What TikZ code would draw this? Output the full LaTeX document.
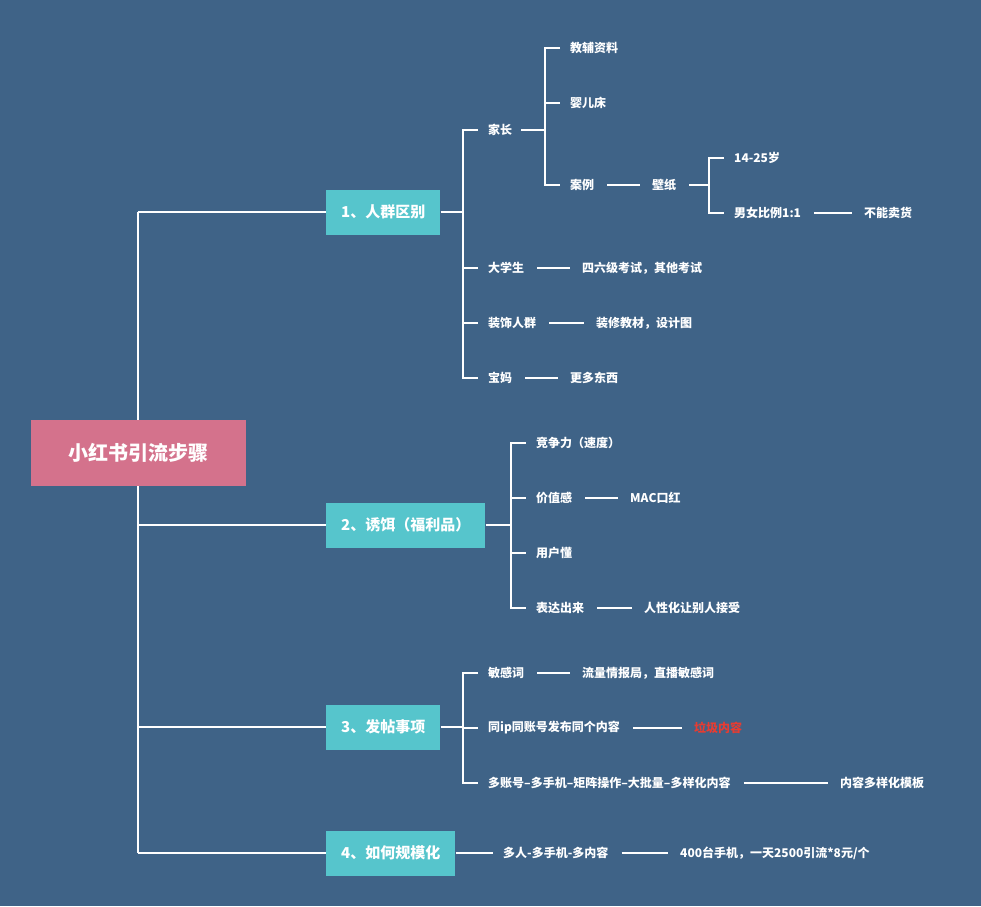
\documentclass[tikz,border=0pt]{standalone}
\usepackage{fontspec}
\setmainfont{Noto Sans CJK SC}
\usetikzlibrary{positioning}
\definecolor{bgblue}{RGB}{63,99,135}
\definecolor{rootpink}{RGB}{212,114,140}
\definecolor{branchteal}{RGB}{86,197,204}
\definecolor{alertred}{RGB}{230,60,50}

\begin{document}
\begin{tikzpicture}[x=1pt, y=-1pt,
        root/.style={rectangle, fill=rootpink, minimum width=215pt, minimum height=66pt, font=\fontsize{20}{24}\selectfont\bfseries, text=white},
        branch/.style={rectangle, fill=branchteal, minimum height=45pt, inner xsep=15pt, font=\fontsize{15}{18}\selectfont\bfseries, text=white},
        leaf/.style={anchor=west, inner sep=1pt, font=\fontsize{12}{14}\selectfont\bfseries, text=white},
        trunk/.style={draw=white, line width=2.2pt},
        link/.style={draw=white, line width=1.5pt}
    ]
        \fill[bgblue] (0,0) rectangle (981,906);
        % trunk
        \draw[trunk] (138,212) -- (138,853);
        \node[root] (root) at (138,453) {小红书引流步骤};
        \node[branch, anchor=west] (b1) at (326,212) {1、人群区别};
        \node[branch, anchor=west] (b2) at (326,525) {2、诱饵（福利品）};
        \node[branch, anchor=west] (b3) at (326,727) {3、发帖事项};
        \node[branch, anchor=west] (b4) at (326,853) {4、如何规模化};
        \foreach \b in {b1,b2,b3,b4}
            \draw[trunk] (138,0 |- \b.west) -- (\b.west);

        % 1
        \node[leaf] (jz) at (487,130) {家长};
        \node[leaf] (dxs) at (487,268) {大学生};
        \node[leaf] (zsrq) at (487,323) {装饰人群};
        \node[leaf] (bm) at (487,378) {宝妈};
        \node[leaf] (jfzl) at (569,48) {教辅资料};
        \node[leaf] (yec) at (569,103) {婴儿床};
        \node[leaf] (al) at (569,185) {案例};
        \node[leaf] (bz) at (651,185) {壁纸};
        \node[leaf] (age) at (733,158) {14-25岁};
        \node[leaf] (nnbl) at (733,213) {男女比例1:1};
        \node[leaf] (bnmh) at (863,213) {不能卖货};
        \node[leaf] (slj) at (581,268) {四六级考试，其他考试};
        \node[leaf] (zxjc) at (595,323) {装修教材，设计图};
        \node[leaf] (gddx) at (569,378) {更多东西};
        \draw[link] (b1.east) -- (463,212);
        \draw[link] (478,0 |- jz.west) -| (463,378) -- (bm.west -| 478,0);
        \foreach \n in {dxs,zsrq} \draw[link] (463,0 |- \n.west) -- (478,0 |- \n.west);
        \draw[link] (463,0 |- jz.west) -- (478,0 |- jz.west);
        \draw[link] ([xshift=8pt]jz.east) -- (545,0 |- jz.east);
        \draw[link] (560,0 |- jfzl.west) -| (545,185) -- (560,0 |- al.west);
        \draw[link] (545,0 |- yec.west) -- (560,0 |- yec.west);
        \draw[link] ([xshift=12pt]al.east) -- ([xshift=-11pt]bz.west);
        \draw[link] ([xshift=12pt]bz.east) -- (709,0 |- bz.east);
        \draw[link] (724,0 |- age.west) -| (709,0 |- nnbl.west) -- (724,0 |- nnbl.west);
        \draw[link] ([xshift=12pt]nnbl.east) -- ([xshift=-11pt]bnmh.west);
        \draw[link] ([xshift=12pt]dxs.east) -- ([xshift=-11pt]slj.west);
        \draw[link] ([xshift=12pt]zsrq.east) -- ([xshift=-11pt]zxjc.west);
        \draw[link] ([xshift=12pt]bm.east) -- ([xshift=-11pt]gddx.west);

        % 2
        \node[leaf] (jzl) at (535,443) {竞争力（速度）};
        \node[leaf] (jzg) at (535,498) {价值感};
        \node[leaf] (mac) at (629,498) {MAC口红};
        \node[leaf] (yhd) at (535,553) {用户懂};
        \node[leaf] (bdcl) at (535,608) {表达出来};
        \node[leaf] (rxh) at (643,608) {人性化让别人接受};
        \draw[link] (b2.east) -- (511,525);
        \draw[link] (526,0 |- jzl.west) -| (511,0 |- bdcl.west) -- (526,0 |- bdcl.west);
        \foreach \n in {jzg,yhd} \draw[link] (511,0 |- \n.west) -- (526,0 |- \n.west);
        \draw[link] ([xshift=12pt]jzg.east) -- ([xshift=-11pt]mac.west);
        \draw[link] ([xshift=12pt]bdcl.east) -- ([xshift=-11pt]rxh.west);

        % 3
        \node[leaf] (mgc) at (487,673) {敏感词};
        \node[leaf] (llqb) at (581,673) {流量情报局，直播敏感词};
        \node[leaf] (tip) at (487,728) {同ip同账号发布同个内容};
        \node[leaf, text=alertred] (ljnr) at (693,728) {垃圾内容};
        \node[leaf] (dzh) at (487,783) {多账号--多手机--矩阵操作--大批量--多样化内容};
        \node[leaf] (nrmb) at (839,783) {内容多样化模板};
        \draw[link] (b3.east) -- (463,727);
        \draw[link] (478,0 |- mgc.west) -| (463,0 |- dzh.west) -- (478,0 |- dzh.west);
        \draw[link] (463,0 |- tip.west) -- (478,0 |- tip.west);
        \draw[link] ([xshift=12pt]mgc.east) -- ([xshift=-11pt]llqb.west);
        \draw[link] ([xshift=12pt]tip.east) -- ([xshift=-11pt]ljnr.west);
        \draw[link] ([xshift=12pt]dzh.east) -- ([xshift=-11pt]nrmb.west);

        % 4
        \node[leaf] (drdsj) at (502,853) {多人-多手机-多内容};
        \node[leaf] (sjs) at (679,853) {400台手机，一天2500引流*8元/个};
        \draw[link] (b4.east) -- ([xshift=-9pt]drdsj.west);
        \draw[link] ([xshift=12pt]drdsj.east) -- ([xshift=-11pt]sjs.west);
    \end{tikzpicture}
\end{document}
